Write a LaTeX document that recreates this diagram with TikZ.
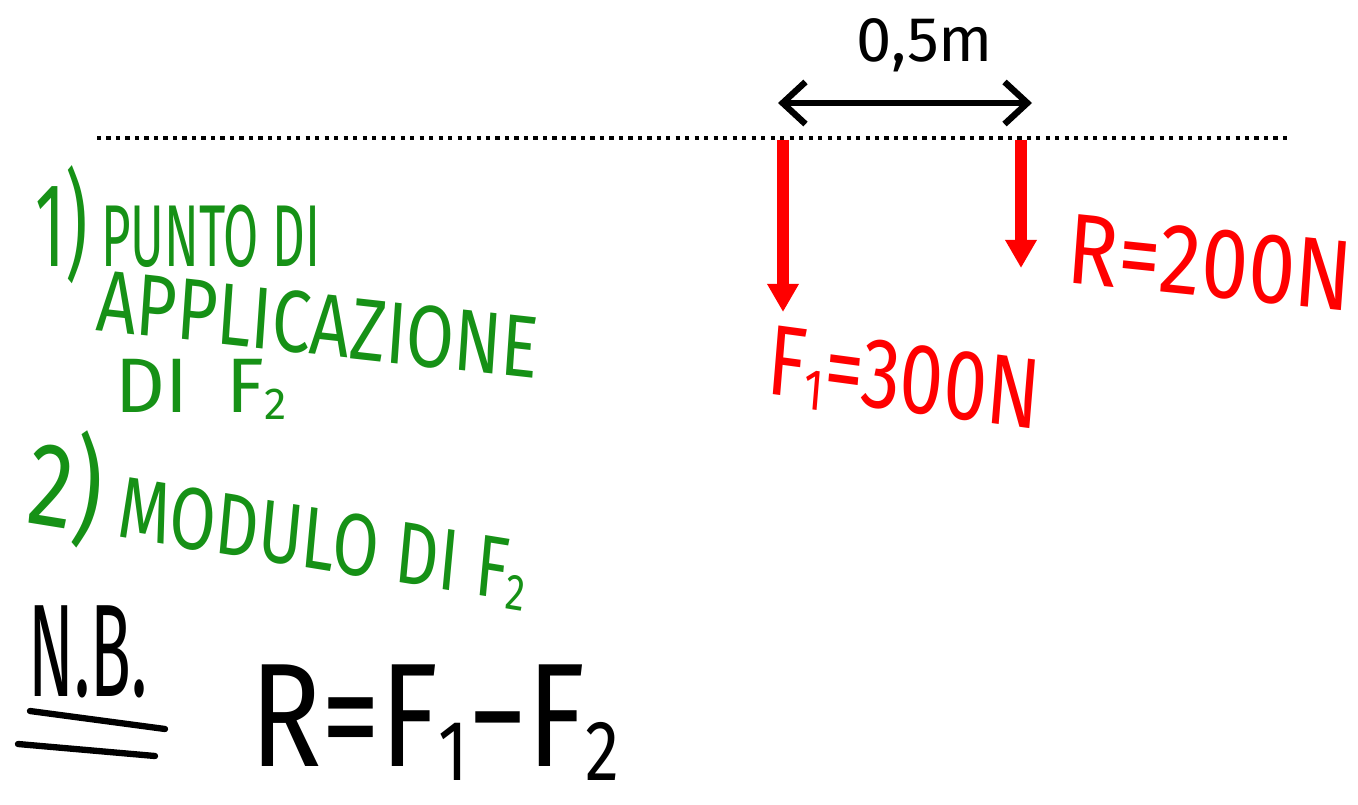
\documentclass[tikz,border=0pt]{standalone}
\usepackage{fontspec}
\setmainfont{Fira Sans}
\usetikzlibrary{arrows.meta}
\definecolor{notegreen}{RGB}{22,145,22}
\definecolor{forcered}{RGB}{255,0,0}
\newcommand{\idx}[1]{\raisebox{-0.1em}{\scalebox{0.58}{#1}}}
\newcommand{\bignum}[1]{{\fontsize{68}{70}\selectfont #1}}
\tikzstyle{note} = [text=notegreen, font=\fontsize{50}{56}\selectfont, anchor=base west, inner sep=0pt]
\tikzstyle{forcelabel} = [text=forcered, font=\fontsize{57}{64}\selectfont, anchor=base west, inner sep=0pt]
\tikzstyle{formula} = [text=black, anchor=base west, inner sep=0pt]
\tikzstyle{force} = [line width=6.8pt, draw=forcered, -{Triangle[length=16pt,width=17pt]}]
\tikzstyle{span} = [line width=3.6pt, line cap=round, {Straight Barb[length=13pt,width=24pt]}-{Straight Barb[length=13pt,width=24pt]}]
\tikzstyle{underline} = [line width=3.6pt, line cap=round]

\begin{document}
\begin{tikzpicture}[x=0.02cm, y=-0.02cm]
    \useasboundingbox (0,0) rectangle (1358,804);
    % line of action
    \draw[line width=2.4pt, dash pattern=on 2.4pt off 3pt] (97,138) -- (1290,138);
    % distance between the forces
    \coordinate (spanl) at (778,103);
    \coordinate (spanr) at (1032,103);
    \draw[span] (spanl) -- (spanr);
    \node (dist)[formula, anchor=base, font=\fontsize{36}{40}\selectfont] at (925,62) {0,5m};
    % forces
    \coordinate (f1top) at (783,140);
    \coordinate (f1tip) at (783,312);
    \coordinate (rtop) at (1021,140);
    \coordinate (rtip) at (1021,268);
    \draw[force] (f1top) -- (f1tip);
    \draw[force] (rtop) -- (rtip);
    \node (f1lab)[forcelabel, xscale=0.78, rotate=-6] at (765,393) {F\idx{1}=300N};
    \node (rlab)[forcelabel, xscale=0.84, rotate=-5] at (1065,282) {R=200N};
    % questions
    \node (punto)[note, xscale=0.58] at (35,266) {\bignum{1)} PUNTO DI};
    \node (appl)[note, xscale=0.79, rotate=-5] at (95,330) {APPLICAZIONE};
    \node (dif)[note, font=\fontsize{44}{50}\selectfont] at (115,412) {DI\enspace F\idx{2}};
    \node (modulo)[note, xscale=0.76, rotate=-7] at (25,522) {\bignum{2)} MODULO DI F\idx{2}};
    % note
    \node (nb)[formula, xscale=0.51, font=\fontsize{75}{80}\selectfont] at (28,696) {N.B.};
    \coordinate (ul1a) at (30,711);
    \coordinate (ul1b) at (165,729);
    \coordinate (ul2a) at (18,744);
    \coordinate (ul2b) at (155,756);
    \draw[underline] (ul1a) -- (ul1b);
    \draw[underline] (ul2a) -- (ul2b);
    \node (rel)[formula, xscale=0.8, font=\fontsize{84}{88}\selectfont] at (250,766) {R=F\idx{1}−F\idx{2}};
\end{tikzpicture}
\end{document}
